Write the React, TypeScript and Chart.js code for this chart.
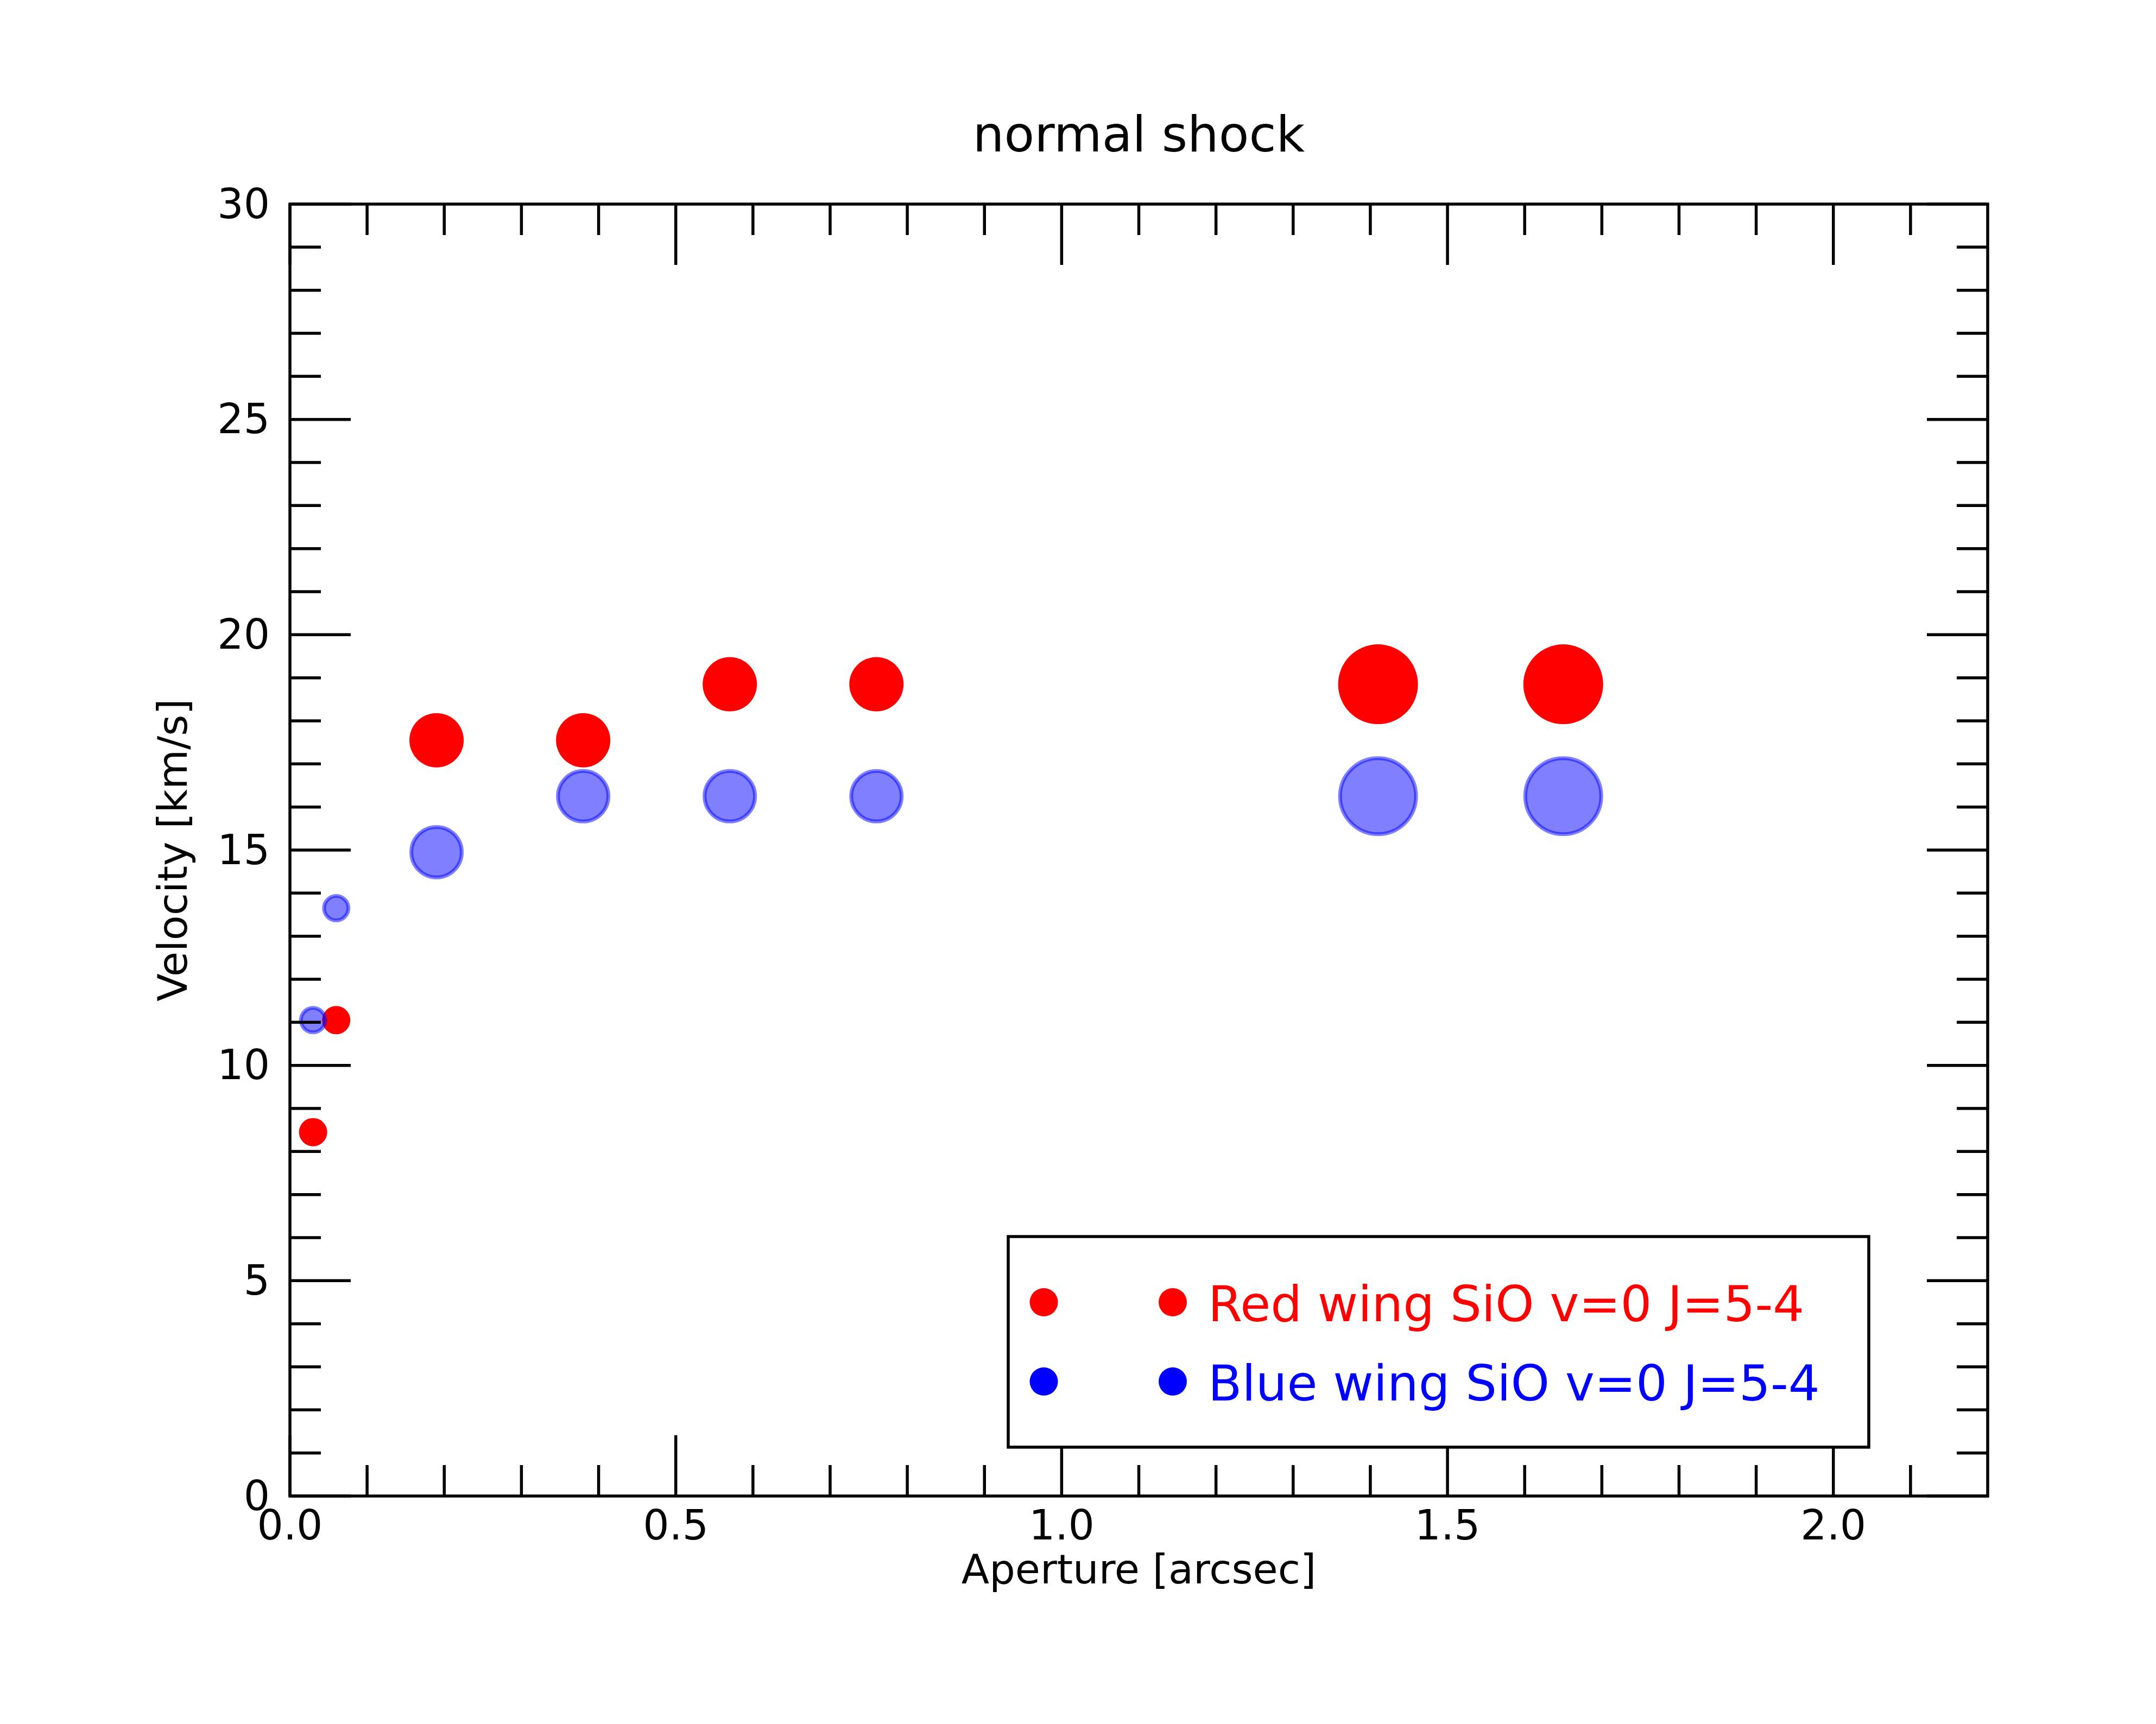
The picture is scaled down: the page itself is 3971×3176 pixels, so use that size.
import { useEffect, useRef } from "react";
import { Chart, registerables } from "chart.js";

Chart.register(...registerables);

// aperture (arcsec) vs wing velocity (km/s)
const apertures = [0.03, 0.06, 0.19, 0.38, 0.57, 0.76, 1.41, 1.65];
const redWingVelocity = [8.45, 11.05, 17.55, 17.55, 18.85, 18.85, 18.85, 18.85];
const blueWingVelocity = [11.05, 13.65, 14.95, 16.25, 16.25, 16.25, 16.25, 16.25];
// marker radius per aperture (px)
const markerRadius = [26, 26, 50, 50, 50, 50, 73.5, 73.5];

const xMajorTicks = [0, 0.5, 1.0, 1.5, 2.0];
const xMinorTicks = [0.1, 0.2, 0.3, 0.4, 0.6, 0.7, 0.8, 0.9, 1.1, 1.2, 1.3, 1.4, 1.6, 1.7, 1.8, 1.9, 2.1];
const yMajorTicks = [0, 5, 10, 15, 20, 25, 30];
const yMinorTicks = [1, 2, 3, 4, 6, 7, 8, 9, 11, 12, 13, 14, 16, 17, 18, 19, 21, 22, 23, 24, 26, 27, 28, 29];

const legendLabels = ["Red wing SiO v=0 J=5-4", "Blue wing SiO v=0 J=5-4"];
const legendColors = ["#ff0000", "#0000ff"];

const FONT = "DejaVu Sans";
const LINE_W = 5.5;
const MAJOR_LEN = 112;
const MINOR_LEN = 57;
const BLUE_EDGE = 7;

const frameAndTicks = {
  id: "frameAndTicks",
  afterDatasetsDraw(chart: any) {
    const { ctx, chartArea: a, scales } = chart;
    const xs = scales.x;
    const ys = scales.y;
    ctx.save();
    ctx.strokeStyle = "#000";
    ctx.lineWidth = LINE_W;
    ctx.lineCap = "butt";
    const seg = (x1: number, y1: number, x2: number, y2: number) => {
      ctx.beginPath();
      ctx.moveTo(x1, y1);
      ctx.lineTo(x2, y2);
      ctx.stroke();
    };
    const xTick = (v: number, len: number) => {
      const px = xs.getPixelForValue(v);
      seg(px, a.bottom, px, a.bottom - len);
      seg(px, a.top, px, a.top + len);
    };
    const yTick = (v: number, len: number) => {
      const py = ys.getPixelForValue(v);
      seg(a.left, py, a.left + len, py);
      seg(a.right, py, a.right - len, py);
    };
    xMajorTicks.forEach((v) => xTick(v, MAJOR_LEN));
    xMinorTicks.forEach((v) => xTick(v, MINOR_LEN));
    yMajorTicks.forEach((v) => yTick(v, MAJOR_LEN));
    yMinorTicks.forEach((v) => yTick(v, MINOR_LEN));
    ctx.strokeRect(a.left, a.top, a.right - a.left, a.bottom - a.top);
    ctx.restore();
  },
};

const boxLegend = {
  id: "boxLegend",
  afterDraw(chart: any) {
    const { ctx } = chart;
    const box = { left: 1857, top: 2278, right: 3442, bottom: 2666 };
    ctx.save();
    ctx.fillStyle = "#fff";
    ctx.fillRect(box.left, box.top, box.right - box.left, box.bottom - box.top);
    ctx.strokeStyle = "#000";
    ctx.lineWidth = LINE_W;
    ctx.strokeRect(box.left, box.top, box.right - box.left, box.bottom - box.top);
    ctx.font = `91px "${FONT}"`;
    ctx.textAlign = "left";
    ctx.textBaseline = "alphabetic";
    legendLabels.forEach((label, i) => {
      const cy = 2399 + i * 146;
      ctx.fillStyle = legendColors[i];
      [1922.5, 2160].forEach((cx) => {
        ctx.beginPath();
        ctx.arc(cx, cy, 26, 0, Math.PI * 2);
        ctx.fill();
      });
      ctx.fillText(label, 2225, cy + 35);
    });
    ctx.restore();
  },
};

export default function App() {
  const canvasRef = useRef<HTMLCanvasElement>(null);

  useEffect(() => {
    if (!canvasRef.current) return;
    const tickFont = { family: FONT, size: 76, weight: "normal" as const };
    const labelFont = { family: FONT, size: 75, weight: "normal" as const, lineHeight: 1.2 };
    const chart = new Chart(canvasRef.current, {
      type: "scatter",
      data: {
        datasets: [
          {
            label: legendLabels[0],
            data: apertures.map((x, i) => ({ x, y: redWingVelocity[i] })),
            backgroundColor: "#ff0000",
            borderWidth: 0,
            pointRadius: (c: any) => markerRadius[c.dataIndex],
            order: 2,
          },
          {
            label: legendLabels[1],
            data: apertures.map((x, i) => ({ x, y: blueWingVelocity[i] })),
            backgroundColor: "rgba(0,0,255,0.5)",
            borderColor: "rgba(0,0,255,0.5)",
            borderWidth: BLUE_EDGE,
            pointRadius: (c: any) => markerRadius[c.dataIndex] - BLUE_EDGE / 2,
            order: 1,
          },
        ],
      },
      options: {
        responsive: true,
        maintainAspectRatio: false,
        devicePixelRatio: 1,
        animation: false,
        events: [],
        layout: { padding: { left: 0, top: 0, right: 310, bottom: 0 } },
        plugins: {
          legend: { display: false },
          tooltip: { enabled: false },
          title: {
            display: true,
            text: "normal shock",
            color: "#000",
            fullSize: false,
            font: { family: FONT, size: 91, weight: "normal", lineHeight: 1.2 },
            padding: { top: 200.8, bottom: 66 },
          },
        },
        scales: {
          x: {
            type: "linear",
            min: 0,
            max: 2.2,
            grid: { display: false, drawTicks: false, tickLength: 0 },
            border: { display: false },
            afterBuildTicks: (axis: any) => {
              axis.ticks = xMajorTicks.map((value) => ({ value }));
            },
            afterFit: (axis: any) => {
              axis.height = 420;
            },
            ticks: {
              autoSkip: false,
              maxRotation: 0,
              padding: 15,
              color: "#000",
              font: tickFont,
              callback: (v: any) => Number(v).toFixed(1),
            },
            title: {
              display: true,
              text: "Aperture [arcsec]",
              color: "#000",
              font: labelFont,
              padding: { top: 0, bottom: 233 },
            },
          },
          y: {
            type: "linear",
            min: 0,
            max: 30,
            grid: { display: false, drawTicks: false, tickLength: 0 },
            border: { display: false },
            afterBuildTicks: (axis: any) => {
              axis.ticks = yMajorTicks.map((value) => ({ value }));
            },
            afterFit: (axis: any) => {
              axis.width = 534;
            },
            ticks: {
              autoSkip: false,
              padding: 37,
              labelOffset: 6,
              color: "#000",
              font: tickFont,
              callback: (v: any) => String(v),
            },
            title: {
              display: true,
              text: "Velocity [km/s]",
              color: "#000",
              font: labelFont,
              padding: { top: 279.8, bottom: 0 },
            },
          },
        },
      },
      plugins: [frameAndTicks, boxLegend],
    });
    return () => chart.destroy();
  }, []);

  return (
    <div style={{ position: "fixed", left: 0, top: 0, width: 3971, height: 3176, background: "#fff" }}>
      <canvas ref={canvasRef} />
    </div>
  );
}
